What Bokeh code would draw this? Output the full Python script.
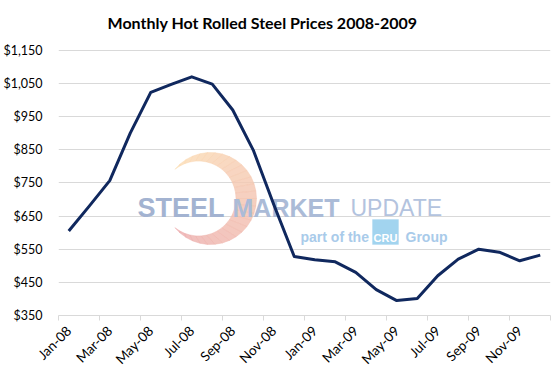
import numpy as np
from math import pi
from bokeh.plotting import figure
from bokeh.models import (FixedTicker, NumeralTickFormatter, Range1d, Label,
                          PolyAnnotation)
from bokeh.embed import file_html
from bokeh.resources import INLINE

# ---- data ----
months = ["Jan-08", "Feb-08", "Mar-08", "Apr-08", "May-08", "Jun-08",
          "Jul-08", "Aug-08", "Sep-08", "Oct-08", "Nov-08", "Dec-08",
          "Jan-09", "Feb-09", "Mar-09", "Apr-09", "May-09", "Jun-09",
          "Jul-09", "Aug-09", "Sep-09", "Oct-09", "Nov-09", "Dec-09"]
prices = [605, 680, 757, 900, 1023, 1047, 1070, 1048, 970, 849, 685, 528,
          518, 512, 480, 428, 395, 401, 470, 520, 550, 541, 515, 532]
y_ticks = [350, 450, 550, 650, 750, 850, 950, 1050, 1150]
title_text = "Monthly Hot Rolled Steel Prices 2008-2009"

FONT = "Lato"
n = len(months)
xs = np.arange(n) + 0.5

# frame extends above the top gridline to leave room for the title inside it
p = figure(width=560, height=375, output_backend="svg", toolbar_location=None,
           x_range=Range1d(0, n), y_range=Range1d(y_ticks[0], y_ticks[-1] + 120),
           min_border_left=58, min_border_right=10, min_border_top=10,
           min_border_bottom=59)
p.outline_line_color = None
p.background_fill_color = "white"
p.border_fill_color = "white"
p.title.visible = False

# title (screen units relative to the plot frame)
p.add_layout(Label(x=204, y=293, x_units="screen", y_units="screen",
                   text=title_text, text_font=FONT, text_font_size="16px",
                   text_font_style="bold", text_color="#000000",
                   text_align="center", text_baseline="alphabetic"))

# y axis
yax = p.yaxis[0]
yax.ticker = FixedTicker(ticks=y_ticks)
yax.formatter = NumeralTickFormatter(format="$0,0")
yax.axis_line_color = None
yax.major_tick_line_color = None
yax.minor_tick_line_color = None
yax.major_tick_out = 0
yax.major_tick_in = 0
yax.major_label_standoff = 16
yax.major_label_text_font = FONT
yax.major_label_text_font_size = "12.5px"
yax.major_label_text_color = "#000000"

# x axis
xax = p.xaxis[0]
major = [float(i) + 0.5 for i in range(0, n, 2)]
xax.ticker = FixedTicker(ticks=major, minor_ticks=list(range(0, n + 1, 2)))
xax.major_label_overrides = {m: months[int(m)] for m in major}
xax.major_label_orientation = pi / 4
xax.axis_line_color = "#d9d9d9"
xax.axis_line_width = 1
xax.major_tick_line_color = None
xax.major_tick_out = 5
xax.major_tick_in = 0
xax.minor_tick_line_color = "#d9d9d9"
xax.minor_tick_out = 5
xax.minor_tick_in = 0
xax.major_label_standoff = 8
xax.major_label_text_font = FONT
xax.major_label_text_font_size = "13.5px"
xax.major_label_text_color = "#000000"

p.xgrid.grid_line_color = None
p.ygrid.grid_line_color = "#d9d9d9"
p.ygrid.grid_line_width = 1

# ---- watermark (decoration, screen units relative to plot frame) ----
oc = (152.0, 117.0); ro = 46.0
ic = (140.0, 117.0); ri = 37.5
dx_ = oc[0] - ic[0]
xi = ((ro**2 - ri**2) - (oc[0]**2 - ic[0]**2)) / (-2 * dx_)
dy_ = np.sqrt(ro**2 - (xi - oc[0])**2)
a0o = np.arctan2(dy_, xi - oc[0]); a0i = np.arctan2(dy_, xi - ic[0])
N = 30
c_top = np.array([252, 222, 180]); c_bot = np.array([236, 170, 172])
for k in range(N):
    t0, t1 = k / N, (k + 1) / N
    ao0 = a0o - t0 * 2 * a0o; ao1 = a0o - t1 * 2 * a0o
    ai0 = a0i - t0 * 2 * a0i; ai1 = a0i - t1 * 2 * a0i
    pxs = [oc[0] + ro * np.cos(ao0), oc[0] + ro * np.cos(ao1),
           ic[0] + ri * np.cos(ai1), ic[0] + ri * np.cos(ai0)]
    pys = [oc[1] + ro * np.sin(ao0), oc[1] + ro * np.sin(ao1),
           ic[1] + ri * np.sin(ai1), ic[1] + ri * np.sin(ai0)]
    tm = (t0 + t1) / 2
    c = (c_top * (1 - tm) + c_bot * tm).astype(int)
    col = "#%02x%02x%02x" % tuple(c)
    p.add_layout(PolyAnnotation(xs=[float(v) for v in pxs], ys=[float(v) for v in pys],
                                xs_units="screen", ys_units="screen",
                                fill_color=col, fill_alpha=0.8,
                                line_color=col, line_alpha=0.8, line_width=0.6,
                                level="underlay"))

def wm_label(txt, x, y, size, color, style="bold", font="Liberation Sans", align="left"):
    p.add_layout(Label(x=x, y=y, x_units="screen", y_units="screen", text=txt,
                       text_font=font, text_font_size=size, text_font_style=style,
                       text_color=color, text_align=align, text_baseline="alphabetic",
                       level="underlay"))

wm_label("STEEL", 79, 108, "27px", "#a3b3d1")
wm_label("MARKET", 174, 108, "25px", "#abbbd7")
wm_label("UPDATE", 292, 108, "23px", "#b3c3de", style="normal")
wm_label("part of the", 242, 79, "14px", "#a9cbea")
# CRU box
p.add_layout(PolyAnnotation(xs=[314, 340, 340, 314], ys=[71, 71, 96, 96],
                            xs_units="screen", ys_units="screen",
                            fill_color="#a2d4ef", fill_alpha=1.0,
                            line_color="#a2d4ef", level="underlay"))
wm_label("CRU", 327, 78, "11px", "#ffffff", align="center")
wm_label("Group", 347, 79, "14px", "#a9cbea")

# ---- data line ----
p.line(xs, prices, line_color="#10285e", line_width=3, line_join="round")

open("out.html", "w").write(file_html(p, INLINE))
